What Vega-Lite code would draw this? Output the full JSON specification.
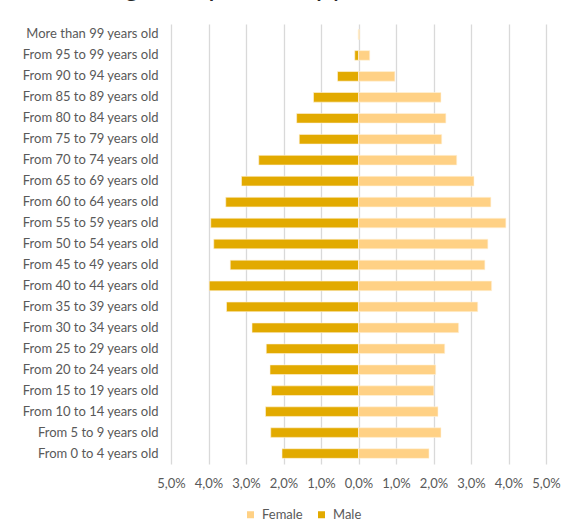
{
  "$schema": "https://vega.github.io/schema/vega-lite/v6.json",
  "autosize": {"type": "none"},
  "width": 375,
  "height": 440,
  "padding": {"left": 171, "top": 24, "right": 17, "bottom": 67},
  "background": "white",
  "title": {
    "text": "Fig 3. Population pyramid 2018",
    "anchor": "middle",
    "frame": "group",
    "dx": -64,
    "dy": 12,
    "offset": 12,
    "baseline": "alphabetic",
    "font": "Lato",
    "fontSize": 28,
    "fontWeight": "normal",
    "color": "#262626"
  },
  "data": {
    "values": [
      {"age": "More than 99 years old", "sex": "Male", "share": -0.01},
      {"age": "More than 99 years old", "sex": "Female", "share": 0.03},
      {"age": "From 95 to 99 years old", "sex": "Male", "share": -0.1},
      {"age": "From 95 to 99 years old", "sex": "Female", "share": 0.3},
      {"age": "From 90 to 94 years old", "sex": "Male", "share": -0.56},
      {"age": "From 90 to 94 years old", "sex": "Female", "share": 0.97},
      {"age": "From 85 to 89 years old", "sex": "Male", "share": -1.2},
      {"age": "From 85 to 89 years old", "sex": "Female", "share": 2.2},
      {"age": "From 80 to 84 years old", "sex": "Male", "share": -1.65},
      {"age": "From 80 to 84 years old", "sex": "Female", "share": 2.33},
      {"age": "From 75 to 79 years old", "sex": "Male", "share": -1.58},
      {"age": "From 75 to 79 years old", "sex": "Female", "share": 2.22},
      {"age": "From 70 to 74 years old", "sex": "Male", "share": -2.66},
      {"age": "From 70 to 74 years old", "sex": "Female", "share": 2.62},
      {"age": "From 65 to 69 years old", "sex": "Male", "share": -3.12},
      {"age": "From 65 to 69 years old", "sex": "Female", "share": 3.08},
      {"age": "From 60 to 64 years old", "sex": "Male", "share": -3.54},
      {"age": "From 60 to 64 years old", "sex": "Female", "share": 3.53},
      {"age": "From 55 to 59 years old", "sex": "Male", "share": -3.94},
      {"age": "From 55 to 59 years old", "sex": "Female", "share": 3.93},
      {"age": "From 50 to 54 years old", "sex": "Male", "share": -3.86},
      {"age": "From 50 to 54 years old", "sex": "Female", "share": 3.45},
      {"age": "From 45 to 49 years old", "sex": "Male", "share": -3.42},
      {"age": "From 45 to 49 years old", "sex": "Female", "share": 3.37},
      {"age": "From 40 to 44 years old", "sex": "Male", "share": -3.98},
      {"age": "From 40 to 44 years old", "sex": "Female", "share": 3.55},
      {"age": "From 35 to 39 years old", "sex": "Male", "share": -3.52},
      {"age": "From 35 to 39 years old", "sex": "Female", "share": 3.18},
      {"age": "From 30 to 34 years old", "sex": "Male", "share": -2.84},
      {"age": "From 30 to 34 years old", "sex": "Female", "share": 2.67},
      {"age": "From 25 to 29 years old", "sex": "Male", "share": -2.46},
      {"age": "From 25 to 29 years old", "sex": "Female", "share": 2.3},
      {"age": "From 20 to 24 years old", "sex": "Male", "share": -2.36},
      {"age": "From 20 to 24 years old", "sex": "Female", "share": 2.06},
      {"age": "From 15 to 19 years old", "sex": "Male", "share": -2.32},
      {"age": "From 15 to 19 years old", "sex": "Female", "share": 2.01},
      {"age": "From 10 to 14 years old", "sex": "Male", "share": -2.48},
      {"age": "From 10 to 14 years old", "sex": "Female", "share": 2.12},
      {"age": "From 5 to 9 years old", "sex": "Male", "share": -2.34},
      {"age": "From 5 to 9 years old", "sex": "Female", "share": 2.2},
      {"age": "From 0 to 4 years old", "sex": "Male", "share": -2.04},
      {"age": "From 0 to 4 years old", "sex": "Female", "share": 1.88}
    ]
  },
  "mark": {"type": "bar", "stroke": "#fff3dc", "strokeWidth": 0.6},
  "encoding": {
    "y": {
      "field": "age",
      "type": "nominal",
      "sort": null,
      "scale": {"paddingInner": 0.54, "paddingOuter": 0.27},
      "axis": {
        "title": null,
        "domain": false,
        "ticks": false,
        "tickSize": 0,
        "labelPadding": 13,
        "labelFont": "Lato",
        "labelFontSize": 13,
        "labelColor": "#595959",
        "grid": false
      }
    },
    "x": {
      "field": "share",
      "type": "quantitative",
      "stack": null,
      "scale": {"domain": [-5, 5], "nice": false, "zero": false},
      "axis": {
        "title": null,
        "values": [-5, -4, -3, -2, -1, 0, 1, 2, 3, 4, 5],
        "labelExpr": "replace(format(abs(datum.value), '.1f'), '.', ',') + '%'",
        "labelOverlap": false,
        "labelFlush": false,
        "domain": false,
        "ticks": false,
        "tickSize": 0,
        "labelPadding": 13,
        "labelFont": "Lato",
        "labelFontSize": 13,
        "labelColor": "#595959",
        "grid": true,
        "gridColor": "#d9d9d9",
        "gridWidth": 1.3
      }
    },
    "color": {
      "field": "sex",
      "type": "nominal",
      "scale": {"domain": ["Female", "Male"], "range": ["#FFD185", "#E2AA00"]},
      "legend": {
        "title": null,
        "orient": "none",
        "direction": "horizontal",
        "legendX": 73,
        "legendY": 484,
        "symbolType": "square",
        "symbolSize": 49,
        "symbolStrokeWidth": 0,
        "labelFont": "Lato",
        "labelFontSize": 13,
        "labelColor": "#595959",
        "labelOffset": 5,
        "columnPadding": 12,
        "padding": 0
      }
    }
  },
  "config": {
    "view": {"stroke": null}
  }
}
